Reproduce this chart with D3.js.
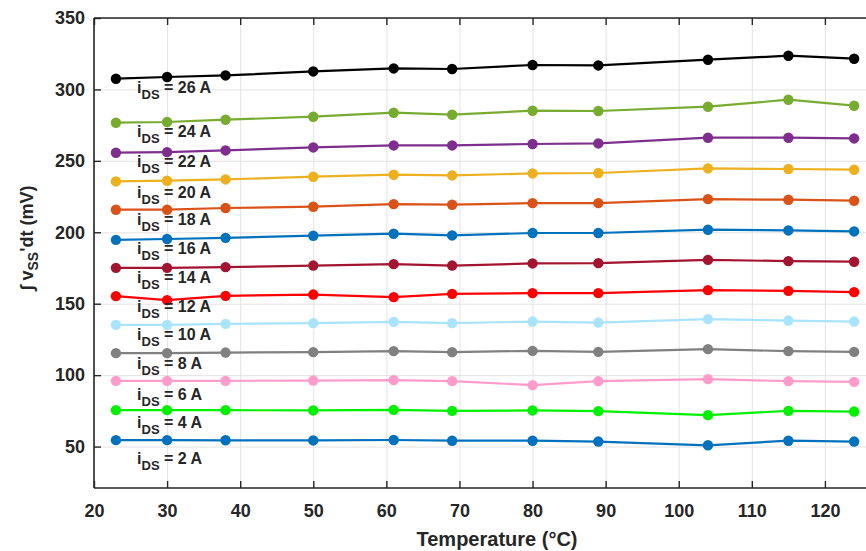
<!DOCTYPE html>
<html>
<head>
<meta charset="utf-8">
<script src="https://cdn.jsdelivr.net/npm/d3@7"></script>
<style>
  html, body { margin: 0; padding: 0; background: #fff; }
  svg { display: block; font-family: "Liberation Sans", Arial, sans-serif; }
  .tick text { font-weight: bold; fill: #262626; }
</style>
</head>
<body>
<svg id="chart" width="866" height="551"></svg>
<script>
// ---------- data ----------
const temps = [23, 30, 38, 50, 61, 69, 80, 89, 104, 115, 124];
const currents = [26, 24, 22, 20, 18, 16, 14, 12, 10, 8, 6, 4, 2];
const v26 = [307.5, 308.7, 309.8, 312.6, 314.7, 314.3, 317.1, 316.8, 320.8, 323.6, 321.5];
const v24 = [276.7, 277.2, 278.8, 280.9, 283.7, 282.3, 285.1, 284.9, 287.9, 292.8, 288.6];
const v22 = [255.7, 256.1, 257.3, 259.4, 260.8, 260.8, 261.8, 262.2, 266.2, 266.2, 265.7];
const v20 = [235.6, 236.1, 237.0, 238.9, 240.3, 239.8, 241.2, 241.5, 244.7, 244.3, 243.8];
const v18 = [215.8, 215.8, 217.0, 217.9, 219.7, 219.3, 220.4, 220.4, 223.2, 222.8, 222.1];
const v16 = [194.7, 195.3, 196.1, 197.6, 199.0, 197.8, 199.5, 199.5, 201.8, 201.3, 200.6];
const v14 = [175.1, 175.1, 175.6, 176.7, 177.7, 176.7, 178.2, 178.4, 180.7, 179.8, 179.4];
const v12 = [155.3, 152.5, 155.5, 156.4, 154.6, 156.9, 157.4, 157.4, 159.5, 159.0, 158.1];
const v10 = [135.2, 135.2, 135.9, 136.4, 137.3, 136.4, 137.5, 136.8, 139.2, 138.2, 137.5];
const v8  = [115.4, 115.4, 115.8, 116.1, 116.8, 116.1, 117.0, 116.3, 118.2, 116.8, 116.3];
const v6  = [96.0, 96.0, 96.0, 96.2, 96.5, 95.8, 93.0, 95.8, 97.2, 95.8, 95.3];
const v4  = [75.5, 75.5, 75.5, 75.3, 75.7, 75.0, 75.3, 74.8, 72.0, 75.0, 74.5];
const v2  = [54.5, 54.5, 54.4, 54.3, 54.6, 54.1, 54.1, 53.5, 50.9, 54.1, 53.5];
const seriesValues = [v26, v24, v22, v20, v18, v16, v14, v12, v10, v8, v6, v4, v2];
const labelAnchorT = 25.9;
const labelAnchorV = [301.2, 269.9, 248.9, 227.5, 208.8, 188.4, 168, 148, 128.2, 108, 86, 66.4, 41.4];
const xTicks = [20, 30, 40, 50, 60, 70, 80, 90, 100, 110, 120];
const yTicks = [50, 100, 150, 200, 250, 300, 350];

// ---------- styles ----------
const colors = ["#000000", "#77AC30", "#7E2F8E", "#EDB120", "#D95319", "#0072BD",
                "#A2142F", "#FF0000", "#A9E4FC", "#808080", "#FF9CCB", "#00F000", "#0072BD"];

const svg = d3.select("#chart");
const pLeft = 94, pRight = 898, pTop = 18, pBottom = 488;
const x = d3.scaleLinear().domain([20, 130]).range([pLeft, pRight]);
const y = d3.scaleLinear().domain([21, 350]).range([pBottom, pTop]);

// grid
svg.append("g").attr("transform", `translate(0,${pBottom})`)
  .call(d3.axisBottom(x).tickValues(xTicks).tickSize(-(pBottom - pTop)).tickFormat(""))
  .call(g => g.select(".domain").remove())
  .call(g => g.selectAll("line").attr("stroke", "#e3e3e3").attr("stroke-width", 1));
svg.append("g").attr("transform", `translate(${pLeft},0)`)
  .call(d3.axisLeft(y).tickValues(yTicks).tickSize(-(pRight - pLeft)).tickFormat(""))
  .call(g => g.select(".domain").remove())
  .call(g => g.selectAll("line").attr("stroke", "#e3e3e3").attr("stroke-width", 1));

// series
const line = d3.line().x((d, i) => x(temps[i])).y(d => y(d));
seriesValues.forEach((vals, k) => {
  const g = svg.append("g");
  g.append("path").datum(vals).attr("d", line)
    .attr("fill", "none").attr("stroke", colors[k]).attr("stroke-width", 2.2);
  g.selectAll("circle").data(vals).join("circle")
    .attr("cx", (d, i) => x(temps[i])).attr("cy", d => y(d)).attr("r", 5.2)
    .attr("fill", colors[k]);
});

// axes (ticks inward)
const axisColor = "#262626";
const bx = svg.append("g").attr("transform", `translate(0,${pBottom})`)
  .call(d3.axisBottom(x).tickValues(xTicks).tickSize(-7).tickPadding(16));
const tx = svg.append("g").attr("transform", `translate(0,${pTop})`)
  .call(d3.axisTop(x).tickValues(xTicks).tickSize(-7).tickFormat(""));
const ly = svg.append("g").attr("transform", `translate(${pLeft},0)`)
  .call(d3.axisLeft(y).tickValues(yTicks).tickSize(-7).tickPadding(9));
[bx, tx, ly].forEach(g => {
  g.selectAll(".domain").attr("stroke", axisColor).attr("stroke-width", 1.6);
  g.selectAll(".tick line").attr("stroke", axisColor).attr("stroke-width", 1.4);
  g.selectAll(".tick text").attr("font-size", 18);
});
bx.selectAll(".domain").attr("d", `M${pLeft},0H${pRight}`);
tx.selectAll(".domain").attr("d", `M${pLeft},0H${pRight}`);
ly.selectAll(".domain").attr("d", `M0,${pBottom}V${pTop}`);

// series labels
currents.forEach((c, k) => {
  const t = svg.append("text")
    .attr("x", x(labelAnchorT)).attr("y", y(labelAnchorV[k]) + 5)
    .attr("font-size", 16).attr("font-weight", "bold").attr("fill", "#262626");
  t.append("tspan").text("i");
  t.append("tspan").attr("dy", 6).attr("font-size", 13).text("DS");
  t.append("tspan").attr("dy", -6).text(` = ${c} A`);
});

// axis titles
svg.append("text").attr("x", 497).attr("y", 546).attr("text-anchor", "middle")
  .attr("font-size", 20).attr("font-weight", "bold").attr("fill", "#262626")
  .text("Temperature (°C)");
const yl = svg.append("text").attr("transform", "translate(33,238) rotate(-90)")
  .attr("text-anchor", "middle").attr("font-size", 18).attr("font-weight", "bold").attr("fill", "#262626");
yl.append("tspan").text("∫ v");
yl.append("tspan").attr("dy", 5).attr("font-size", 14).text("SS");
yl.append("tspan").attr("dy", -5).text("'dt (mV)");
</script>
</body>
</html>
